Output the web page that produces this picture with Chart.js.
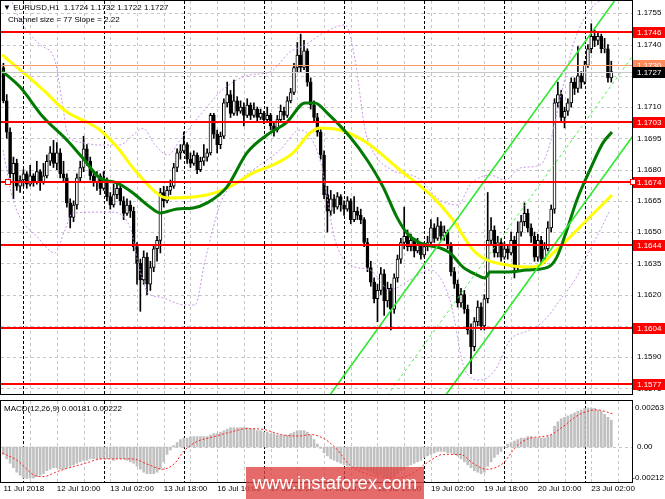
<!DOCTYPE html>
<html>
<head>
<meta charset="utf-8">
<script src="https://cdn.jsdelivr.net/npm/chart.js@4.4.0/dist/chart.umd.min.js"></script>
<style>
  html, body { margin: 0; padding: 0; background: #fff; }
  #wrap { position: relative; width: 665px; height: 499px; overflow: hidden; font-family: 'Liberation Sans', Arial, sans-serif; }
  #main { position: absolute; left: 0; top: 0; }
  #macd { position: absolute; left: 0; top: 397px; }
  .txt { position: absolute; font-size: 8px; color: #000; white-space: nowrap; }
  #watermark {
    position: absolute; left: 246px; top: 467px; width: 178px; height: 32px;
    background: rgba(222, 64, 64, 0.78); color: #fff; font-size: 18.5px;
    line-height: 32px; text-align: center; font-family: Arial, 'Liberation Sans', sans-serif;
  }
</style>
</head>
<body>
<div id="wrap">
  <canvas id="main" width="665" height="397"></canvas>
  <canvas id="macd" width="665" height="102"></canvas>
  <div class="txt" style="left:3px;top:3px;">&#9660; EURUSD,H1&nbsp; 1.1724 1.1732 1.1722 1.1727</div>
  <div class="txt" style="left:8px;top:15px;">Channel size = 77 Slope = 2.22</div>
  <div class="txt" style="left:4px;top:404px;">MACD(12,26,9) 0.00181 0.00222</div>
  <div id="watermark">www.instaforex.com</div>
</div>
<script>
// EURUSD H1, 11 Jul 18:00 .. 23 Jul 08:00 — one row per bar: [open, high, low, close]
const bars = [
  [1.1729, 1.1731, 1.1712, 1.1713], [1.1713, 1.1716, 1.1695, 1.1698], [1.1698, 1.1700, 1.1676, 1.1678], [1.1678, 1.1686, 1.1666, 1.1683],
  [1.1683, 1.1685, 1.1670, 1.1672], [1.1672, 1.1677, 1.1669, 1.1675], [1.1675, 1.1680, 1.1672, 1.1678], [1.1678, 1.1679, 1.1671, 1.1673],
  [1.1673, 1.1682, 1.1672, 1.1677], [1.1677, 1.1678, 1.1672, 1.1674], [1.1674, 1.1684, 1.1673, 1.1679], [1.1679, 1.1680, 1.1670, 1.1674],
  [1.1674, 1.1683, 1.1673, 1.1677], [1.1677, 1.1687, 1.1676, 1.1684], [1.1684, 1.1691, 1.1682, 1.1688], [1.1688, 1.1694, 1.1681, 1.1683],
  [1.1683, 1.1693, 1.1680, 1.1688], [1.1688, 1.1690, 1.1676, 1.1678], [1.1678, 1.1684, 1.1674, 1.1676], [1.1676, 1.1678, 1.1662, 1.1664],
  [1.1664, 1.1666, 1.1652, 1.1657], [1.1657, 1.1665, 1.1655, 1.1663], [1.1663, 1.1678, 1.1661, 1.1676], [1.1676, 1.1684, 1.1674, 1.1681],
  [1.1681, 1.1696, 1.1679, 1.1690], [1.1690, 1.1692, 1.1682, 1.1684], [1.1684, 1.1686, 1.1675, 1.1677], [1.1677, 1.1679, 1.1672, 1.1674],
  [1.1674, 1.1679, 1.1670, 1.1677], [1.1677, 1.1678, 1.1668, 1.1671], [1.1671, 1.1679, 1.1670, 1.1675], [1.1675, 1.1676, 1.1665, 1.1667],
  [1.1667, 1.1669, 1.1661, 1.1663], [1.1663, 1.1673, 1.1662, 1.1668], [1.1668, 1.1674, 1.1666, 1.1671], [1.1671, 1.1672, 1.1663, 1.1665],
  [1.1665, 1.1667, 1.1656, 1.1659], [1.1659, 1.1666, 1.1658, 1.1663], [1.1663, 1.1665, 1.1657, 1.1660], [1.1660, 1.1662, 1.1641, 1.1643],
  [1.1643, 1.1645, 1.1625, 1.1635], [1.1635, 1.1637, 1.1612, 1.1627], [1.1627, 1.1641, 1.1625, 1.1638], [1.1638, 1.1640, 1.1620, 1.1625],
  [1.1625, 1.1636, 1.1622, 1.1633], [1.1633, 1.1644, 1.1631, 1.1642], [1.1642, 1.1648, 1.1636, 1.1646], [1.1646, 1.1671, 1.1640, 1.1669],
  [1.1669, 1.1672, 1.1662, 1.1665], [1.1665, 1.1672, 1.1664, 1.1670], [1.1670, 1.1675, 1.1668, 1.1672], [1.1672, 1.1683, 1.1671, 1.1681],
  [1.1681, 1.1690, 1.1679, 1.1688], [1.1688, 1.1692, 1.1685, 1.1689], [1.1689, 1.1698, 1.1688, 1.1692], [1.1692, 1.1693, 1.1683, 1.1685],
  [1.1685, 1.1688, 1.1681, 1.1683], [1.1683, 1.1689, 1.1682, 1.1687], [1.1687, 1.1688, 1.1678, 1.1680], [1.1680, 1.1686, 1.1679, 1.1684],
  [1.1684, 1.1692, 1.1682, 1.1686], [1.1686, 1.1690, 1.1684, 1.1688], [1.1688, 1.1707, 1.1687, 1.1706], [1.1706, 1.1707, 1.1695, 1.1697],
  [1.1697, 1.1699, 1.1688, 1.1692], [1.1692, 1.1698, 1.1690, 1.1696], [1.1696, 1.1714, 1.1695, 1.1712], [1.1712, 1.1722, 1.1710, 1.1716],
  [1.1716, 1.1718, 1.1705, 1.1707], [1.1707, 1.1723, 1.1706, 1.1713], [1.1713, 1.1715, 1.1706, 1.1708], [1.1708, 1.1713, 1.1707, 1.1710],
  [1.1710, 1.1712, 1.1701, 1.1706], [1.1706, 1.1714, 1.1705, 1.1711], [1.1711, 1.1712, 1.1704, 1.1706], [1.1706, 1.1712, 1.1705, 1.1709],
  [1.1709, 1.1710, 1.1703, 1.1705], [1.1705, 1.1709, 1.1704, 1.1707], [1.1707, 1.1708, 1.1702, 1.1704], [1.1704, 1.1710, 1.1703, 1.1706],
  [1.1706, 1.1707, 1.1699, 1.1701], [1.1701, 1.1703, 1.1696, 1.1699], [1.1699, 1.1706, 1.1698, 1.1704], [1.1704, 1.1711, 1.1703, 1.1708],
  [1.1708, 1.1710, 1.1704, 1.1706], [1.1706, 1.1715, 1.1705, 1.1713], [1.1713, 1.1719, 1.1712, 1.1717], [1.1717, 1.1731, 1.1716, 1.1729],
  [1.1729, 1.1741, 1.1727, 1.1735], [1.1735, 1.1745, 1.1727, 1.1729], [1.1729, 1.1742, 1.1728, 1.1737], [1.1737, 1.1738, 1.1720, 1.1722],
  [1.1722, 1.1724, 1.1709, 1.1711], [1.1711, 1.1713, 1.1703, 1.1705], [1.1705, 1.1707, 1.1696, 1.1698], [1.1698, 1.1700, 1.1685, 1.1687],
  [1.1687, 1.1689, 1.1666, 1.1668], [1.1668, 1.1672, 1.1650, 1.1660], [1.1660, 1.1670, 1.1658, 1.1666], [1.1666, 1.1668, 1.1659, 1.1662],
  [1.1662, 1.1669, 1.1661, 1.1667], [1.1667, 1.1668, 1.1660, 1.1663], [1.1663, 1.1665, 1.1658, 1.1661], [1.1661, 1.1667, 1.1660, 1.1665],
  [1.1665, 1.1666, 1.1654, 1.1656], [1.1656, 1.1667, 1.1655, 1.1660], [1.1660, 1.1662, 1.1656, 1.1658], [1.1658, 1.1661, 1.1654, 1.1656],
  [1.1656, 1.1657, 1.1643, 1.1645], [1.1645, 1.1647, 1.1631, 1.1633], [1.1633, 1.1636, 1.1624, 1.1626], [1.1626, 1.1628, 1.1616, 1.1618],
  [1.1618, 1.1625, 1.1607, 1.1622], [1.1622, 1.1633, 1.1620, 1.1630], [1.1630, 1.1632, 1.1610, 1.1617], [1.1617, 1.1626, 1.1614, 1.1623],
  [1.1623, 1.1625, 1.1603, 1.1613], [1.1613, 1.1630, 1.1611, 1.1628], [1.1628, 1.1639, 1.1626, 1.1637], [1.1637, 1.1647, 1.1635, 1.1645],
  [1.1645, 1.1662, 1.1642, 1.1648], [1.1648, 1.1651, 1.1641, 1.1643], [1.1643, 1.1649, 1.1641, 1.1646], [1.1646, 1.1647, 1.1638, 1.1641],
  [1.1641, 1.1647, 1.1640, 1.1644], [1.1644, 1.1645, 1.1637, 1.1639], [1.1639, 1.1645, 1.1638, 1.1643], [1.1643, 1.1648, 1.1641, 1.1645],
  [1.1645, 1.1656, 1.1644, 1.1652], [1.1652, 1.1654, 1.1645, 1.1647], [1.1647, 1.1657, 1.1646, 1.1653], [1.1653, 1.1655, 1.1646, 1.1648],
  [1.1648, 1.1653, 1.1646, 1.1650], [1.1650, 1.1651, 1.1642, 1.1644], [1.1644, 1.1645, 1.1629, 1.1631], [1.1631, 1.1633, 1.1623, 1.1625],
  [1.1625, 1.1627, 1.1614, 1.1616], [1.1616, 1.1623, 1.1614, 1.1620], [1.1620, 1.1622, 1.1611, 1.1613], [1.1613, 1.1615, 1.1601, 1.1603],
  [1.1603, 1.1606, 1.1582, 1.1595], [1.1595, 1.1609, 1.1593, 1.1607], [1.1607, 1.1617, 1.1605, 1.1614], [1.1614, 1.1616, 1.1603, 1.1605],
  [1.1605, 1.1620, 1.1603, 1.1618], [1.1618, 1.1669, 1.1616, 1.1646], [1.1646, 1.1657, 1.1644, 1.1651], [1.1651, 1.1653, 1.1638, 1.1640],
  [1.1640, 1.1648, 1.1638, 1.1645], [1.1645, 1.1647, 1.1636, 1.1638], [1.1638, 1.1645, 1.1637, 1.1642], [1.1642, 1.1644, 1.1637, 1.1640],
  [1.1640, 1.1650, 1.1639, 1.1646], [1.1646, 1.1648, 1.1628, 1.1633], [1.1633, 1.1655, 1.1631, 1.1650], [1.1650, 1.1658, 1.1648, 1.1655],
  [1.1655, 1.1664, 1.1653, 1.1659], [1.1659, 1.1661, 1.1650, 1.1652], [1.1652, 1.1654, 1.1645, 1.1648], [1.1648, 1.1650, 1.1636, 1.1638],
  [1.1638, 1.1649, 1.1636, 1.1646], [1.1646, 1.1648, 1.1635, 1.1637], [1.1637, 1.1645, 1.1635, 1.1642], [1.1642, 1.1655, 1.1641, 1.1652],
  [1.1652, 1.1663, 1.1650, 1.1661], [1.1661, 1.1714, 1.1659, 1.1712], [1.1712, 1.1722, 1.1710, 1.1716], [1.1716, 1.1718, 1.1703, 1.1705],
  [1.1705, 1.1710, 1.1700, 1.1708], [1.1708, 1.1714, 1.1706, 1.1712], [1.1712, 1.1724, 1.1710, 1.1722], [1.1722, 1.1724, 1.1716, 1.1719],
  [1.1719, 1.1739, 1.1717, 1.1725], [1.1725, 1.1727, 1.1719, 1.1722], [1.1722, 1.1732, 1.1721, 1.1730], [1.1730, 1.1740, 1.1729, 1.1738],
  [1.1738, 1.1750, 1.1736, 1.1744], [1.1744, 1.1747, 1.1739, 1.1742], [1.1742, 1.1746, 1.1740, 1.1744], [1.1744, 1.1745, 1.1736, 1.1738],
  [1.1738, 1.1743, 1.1736, 1.1738], [1.1738, 1.1740, 1.1722, 1.1724], [1.1724, 1.1732, 1.1722, 1.1727]
];

const priceTicks = [1.1575, 1.1590, 1.1605, 1.1620, 1.1635, 1.1650, 1.1665, 1.1680, 1.1695, 1.1710, 1.1725, 1.1740, 1.1755];
const redLevels = [1.1746, 1.1703, 1.1674, 1.1644, 1.1604, 1.1577];
const askLevel = 1.1730;
const bidLevel = 1.1727;

const xLabelBars = [0, 16, 32, 48, 64, 80, 96, 112, 128, 144, 160, 176];
const xLabels = ['11 Jul 2018', '12 Jul 10:00', '13 Jul 02:00', '13 Jul 18:00', '16 Jul 10:00', '17 Jul 02:00',
  '17 Jul 18:00', '18 Jul 10:00', '19 Jul 02:00', '19 Jul 18:00', '20 Jul 10:00', '23 Jul 02:00'];
const daySeparators = [6, 30, 54, 78, 102, 126, 150, 174];

// moving averages: [bar, price]
const greenMA = [[-0.4, 1.17273], [5, 1.17196], [11.9, 1.17052], [19, 1.16942], [23.5, 1.1686], [28.9, 1.1676], [34, 1.16736],
  [38.8, 1.16688], [43.9, 1.1662], [46.9, 1.16592], [52, 1.16611], [56.8, 1.16616], [61, 1.1664], [66.9, 1.16716], [72.9, 1.1688],
  [78.9, 1.16966], [84.9, 1.17028], [90.3, 1.1712], [93.3, 1.1712], [96.9, 1.17072], [103.8, 1.16956], [108.9, 1.16846],
  [113.7, 1.16716], [117.8, 1.16572], [120.8, 1.16496], [124.7, 1.16448], [130.7, 1.16424], [133.7, 1.164], [137.6, 1.16332],
  [141.8, 1.16294], [144.2, 1.1628], [145.7, 1.16308], [150.8, 1.16308], [156.8, 1.16318], [163.1, 1.16332], [165.7, 1.1638],
  [168.7, 1.1651], [171.7, 1.16654], [175.6, 1.16798], [179.5, 1.16928], [182.2, 1.1698]];
const yellowMA = [[-0.4, 1.1735], [5, 1.17278], [11.9, 1.17182], [19, 1.17076], [25, 1.17028], [28.9, 1.1699], [34, 1.16908],
  [38.8, 1.16808], [43.9, 1.16716], [47.8, 1.16668], [49.9, 1.16664], [56.8, 1.16668], [64, 1.16692], [68.7, 1.16726],
  [74.7, 1.16784], [80.7, 1.16822], [86.7, 1.1688], [91.8, 1.16976], [94.8, 1.17], [100.8, 1.1699], [108.9, 1.16928],
  [118.7, 1.16798], [128.6, 1.16668], [134.6, 1.16558], [140.6, 1.16414], [144.8, 1.16366], [150.8, 1.16342], [156.8, 1.16332],
  [160.7, 1.16342], [164.6, 1.164], [168.7, 1.16462], [174.7, 1.16558], [182.2, 1.16678]];
const bandUpper = [[-0.1, 1.1771], [5, 1.17518], [11, 1.17398], [15.4, 1.17326], [17.5, 1.17134], [19.3, 1.16966], [22.9, 1.16932],
  [28.9, 1.16918], [34.9, 1.16918], [38.8, 1.16966], [41.8, 1.16998], [45.4, 1.16918], [49.3, 1.1687], [52.9, 1.16942],
  [58.9, 1.17062], [66.3, 1.17192], [73.8, 1.17254], [79.8, 1.17268], [85.8, 1.17364], [90.3, 1.17398], [96.3, 1.1746],
  [102.3, 1.17494], [105.3, 1.17326], [108.3, 1.1699], [111.3, 1.1687], [116.3, 1.16798], [124.1, 1.1676], [130.7, 1.16654],
  [136.1, 1.1663], [139.7, 1.16726], [145.7, 1.16774], [150.2, 1.1675], [154.7, 1.16808], [160.7, 1.16822], [163.1, 1.16894],
  [166.6, 1.17134], [171.1, 1.17422], [175.6, 1.17566], [181.6, 1.17638]];
const bandLower = [[-0.1, 1.16894], [2.9, 1.16654], [11, 1.16462], [15.4, 1.164], [18.4, 1.1651], [20.8, 1.16592], [31.9, 1.16596],
  [37.9, 1.16524], [40.3, 1.16352], [43.3, 1.16208], [46.9, 1.16188], [54.4, 1.1615], [57.4, 1.1615], [60.4, 1.16366],
  [65.4, 1.16654], [70.8, 1.1675], [76.8, 1.16822], [82.8, 1.16894], [88.8, 1.1699], [94.8, 1.16846], [99.3, 1.16462],
  [103.8, 1.16342], [109.8, 1.16318], [115.7, 1.16222], [121.7, 1.1627], [127.7, 1.16318], [133.7, 1.16174], [138.2, 1.15838],
  [142.7, 1.1579], [147.2, 1.15838], [151.7, 1.15982], [157.6, 1.1603], [162.1, 1.16078], [166.6, 1.16174], [171.1, 1.1627],
  [175.6, 1.16414], [178.7, 1.1651], [181.6, 1.16606]];

// regression channel (size 77 pips, slope 2.22 pips/bar)
const channelBars = [95, 190];
const channelUpper = [1.15657, 1.17766];
const channelMiddle = [1.15272, 1.17381];
const channelLower = [1.14887, 1.16996];

// MACD(12,26,9) histogram per bar, and signal line [bar, value]
const macdHist = [
  -0.0005, -0.0008, -0.0011, -0.0014, -0.0017, -0.0019, -0.0021, -0.00212, -0.0021, -0.0021,
  -0.0020, -0.0019, -0.0018, -0.0016, -0.0015, -0.0014, -0.0014, -0.0015, -0.0015, -0.0014,
  -0.0013, -0.0012, -0.0011, -0.0010, -0.0009, -0.0009, -0.0008, -0.0008, -0.0008, -0.0008,
  -0.0008, -0.0008, -0.0008, -0.0009, -0.0008, -0.0008, -0.0008, -0.0009, -0.0010, -0.0011,
  -0.0013, -0.0015, -0.0017, -0.0018, -0.0018, -0.0018, -0.0017, -0.0015, -0.0010, -0.0005,
  -0.0002, 0.0001, 0.0003, 0.0005, 0.0006, 0.0006, 0.0007, 0.0007, 0.0007, 0.0007,
  0.0007, 0.0007, 0.0008, 0.0009, 0.0009, 0.0010, 0.0011, 0.0012, 0.0013, 0.0013,
  0.0013, 0.0013, 0.0013, 0.0013, 0.0012, 0.0012, 0.0011, 0.0011, 0.0010, 0.0010,
  0.0009, 0.0009, 0.0008, 0.0008, 0.0008, 0.0008, 0.0009, 0.0010, 0.0011, 0.0011,
  0.0011, 0.0010, 0.0008, 0.0005, 0.0002, -0.0001, -0.0004, -0.0006, -0.0008, -0.0009,
  -0.0010, -0.0011, -0.0012, -0.0013, -0.0013, -0.0014, -0.0014, -0.0015, -0.0015, -0.0016,
  -0.0017, -0.0018, -0.0019, -0.0019, -0.0020, -0.0021, -0.0021, -0.0020, -0.0018, -0.0016,
  -0.0015, -0.0013, -0.0012, -0.0011, -0.0010, -0.0009, -0.0007, -0.0006, -0.0005, -0.0004,
  -0.0003, -0.0003, -0.0003, -0.0004, -0.0004, -0.0005, -0.0006, -0.0008, -0.0010, -0.0012,
  -0.0014, -0.0016, -0.0017, -0.0018, -0.0017, -0.0013, -0.0010, -0.0007, -0.0005, -0.0003,
  0.0000, 0.0002, 0.0003, 0.0004, 0.0005, 0.0006, 0.0006, 0.0007, 0.0007, 0.0006,
  0.0006, 0.0006, 0.0006, 0.0007, 0.0008, 0.0014, 0.0017, 0.0019, 0.0020, 0.0021,
  0.0022, 0.0023, 0.0024, 0.0025, 0.0026, 0.00263, 0.00262, 0.0026, 0.0025, 0.0024,
  0.0022, 0.0020, 0.00181
];
const macdSignal = [[-0.4, -0.0004], [4.1, -0.0009], [9.2, -0.0019], [11.7, -0.002], [16.8, -0.0016], [24.5, -0.0011],
  [29.6, -0.0008], [38.5, -0.0008], [43.6, -0.0012], [47.5, -0.0015], [51.3, -0.0011], [53.9, -0.0003], [57.7, 0.00034],
  [62.8, 0.00068], [67.9, 0.001], [73, 0.00124], [78.1, 0.00117], [83.2, 0.00083], [88.3, 0.00074], [92.1, 0.00083],
  [96, 0.00056], [99.8, -0.00014], [103.6, -0.0012], [108.7, -0.0018], [116.4, -0.0021], [121.5, -0.0019], [126.6, -0.0011],
  [131.7, -0.0005], [136.8, -0.0005], [140.6, -0.0011], [144.5, -0.0015], [149.6, -0.0011], [153.4, 0], [157.2, 0.00056],
  [163.6, 0.0008], [167.4, 0.00135], [172.5, 0.0022], [177.6, 0.0025], [182.7, 0.00222]];
const macdTicks = [0.00263, 0, -0.00212];

// visible window
const X_MIN = -0.72, X_MAX = 188.2;
const PRICE_MIN = 1.15723, PRICE_MAX = 1.17609;
const MACD_MIN = -0.00236, MACD_MAX = 0.0031;

const AXIS_FONT = { family: 'Liberation Sans', size: 8 };
const toPts = arr => arr.map(p => ({ x: p[0], y: p[1] }));

function hLine(ctx, x1, x2, y) {
    ctx.beginPath(); ctx.moveTo(x1, y); ctx.lineTo(x2, y); ctx.stroke();
}
function vLine(ctx, x, y1, y2) {
    ctx.beginPath(); ctx.moveTo(x, y1); ctx.lineTo(x, y2); ctx.stroke();
}

// keep chart areas where they are: no extra room for edge labels
function noPadding(s) {
    s.paddingTop = 0; s.paddingBottom = 0; s.paddingLeft = 0; s.paddingRight = 0;
}

// dashed grid + day separators, shared by both panes
function drawTimeGrid(ctx, xs, a) {
    ctx.lineWidth = 1;
    ctx.strokeStyle = '#c6c6c6';
    ctx.setLineDash([3, 3]);
    for (let b = 8; b < X_MAX; b += 8) {
        if (daySeparators.includes(b)) continue;
        vLine(ctx, Math.round(xs.getPixelForValue(b)) + 0.5, a.top, a.bottom);
    }
    ctx.strokeStyle = '#000';
    ctx.setLineDash([3, 2]);
    daySeparators.forEach(b => vLine(ctx, Math.round(xs.getPixelForValue(b)) + 0.5, a.top, a.bottom));
    ctx.setLineDash([]);
}

function drawFrame(ctx, a) {
    ctx.strokeStyle = '#000';
    ctx.lineWidth = 1;
    ctx.strokeRect(a.left - 0.5, a.top - 0.5, a.right - a.left + 1, a.bottom - a.top + 1);
}

const mainDecor = {
    id: 'mainDecor',
    beforeDatasetsDraw(chart) {
        const { ctx, chartArea: a, scales: { x, y } } = chart;
        ctx.save();
        ctx.strokeStyle = '#c6c6c6';
        ctx.lineWidth = 1;
        ctx.setLineDash([3, 3]);
        priceTicks.forEach(v => hLine(ctx, a.left, a.right, Math.round(y.getPixelForValue(v)) + 0.5));
        ctx.setLineDash([]);
        drawTimeGrid(ctx, x, a);
        ctx.restore();
    },
    afterDatasetsDraw(chart) {
        const { ctx, chartArea: a, scales: { x, y } } = chart;
        ctx.save();
        ctx.lineWidth = 1;
        ctx.strokeStyle = '#c8c8c8';
        hLine(ctx, a.left, a.right, Math.round(y.getPixelForValue(bidLevel)) + 0.5);
        ctx.strokeStyle = '#ff9a6a';
        hLine(ctx, a.left, a.right, Math.round(y.getPixelForValue(askLevel)) + 0.5);
        ctx.strokeStyle = '#ff0000';
        ctx.lineWidth = 2;
        redLevels.forEach(v => hLine(ctx, a.left, a.right, Math.round(y.getPixelForValue(v))));
        // small anchor square of the 1.1674 line
        const sy = Math.round(y.getPixelForValue(1.1674));
        const sx = Math.round(x.getPixelForValue(1.4));
        ctx.lineWidth = 1;
        ctx.fillStyle = '#fff';
        ctx.fillRect(sx - 3, sy - 3, 6, 6);
        ctx.strokeRect(sx - 2.5, sy - 2.5, 5, 5);
        drawFrame(ctx, a);
        ctx.restore();
    },
    afterDraw(chart) {
        const { ctx, chartArea: a, scales: { y } } = chart;
        ctx.save();
        ctx.font = '8px "Liberation Sans"';
        ctx.textBaseline = 'middle';
        const box = (v, bg) => {
            const py = Math.round(y.getPixelForValue(v));
            ctx.fillStyle = bg;
            ctx.fillRect(a.right + 1, py - 5, chart.width - a.right - 1, 11);
            ctx.fillStyle = '#fff';
            ctx.fillText(v.toFixed(4), a.right + 5, py + 0.5);
        };
        box(askLevel, '#ff8a5c');
        box(bidLevel, '#000');
        redLevels.forEach(v => box(v, '#ff0000'));
        const sy = Math.round(y.getPixelForValue(1.1674));
        ctx.strokeStyle = '#ff0000';
        ctx.fillStyle = '#fff';
        ctx.fillRect(a.right - 2, sy - 3, 6, 6);
        ctx.strokeRect(a.right - 1.5, sy - 2.5, 5, 5);
        ctx.restore();
    }
};

const macdDecor = {
    id: 'macdDecor',
    beforeDatasetsDraw(chart) {
        const { ctx, chartArea: a, scales: { x, y } } = chart;
        ctx.save();
        ctx.strokeStyle = '#c6c6c6';
        ctx.lineWidth = 1;
        ctx.setLineDash([3, 3]);
        hLine(ctx, a.left, a.right, Math.round(y.getPixelForValue(0)) + 0.5);
        ctx.setLineDash([]);
        drawTimeGrid(ctx, x, a);
        ctx.restore();
    },
    afterDatasetsDraw(chart) {
        const { ctx, chartArea: a } = chart;
        ctx.save();
        drawFrame(ctx, a);
        ctx.restore();
    },
    // scale labels: start 5px right of the pane, pulled left when too wide
    afterDraw(chart) {
        const { ctx, chartArea: a, scales: { y } } = chart;
        ctx.save();
        ctx.font = '8px "Liberation Sans"';
        ctx.textBaseline = 'middle';
        ctx.fillStyle = '#000';
        macdTicks.forEach(v => {
            const label = v === 0 ? '0.00' : v.toFixed(5);
            const w = ctx.measureText(label).width;
            const lx = Math.min(a.right + 5, chart.width - w - 1);
            ctx.fillText(label, lx, Math.min(y.getPixelForValue(v), a.bottom - 4));
        });
        ctx.restore();
    }
};

function buildMainChart() {
    const wicks = bars.map((b, i) => ({ x: i, y: [b[2], b[1]] }));
    const bodies = bars.map((b, i) => {
        let lo = Math.min(b[0], b[3]), hi = Math.max(b[0], b[3]);
        if (hi - lo < 0.00002) { lo -= 0.00001; hi += 0.00001; }
        return { x: i, y: [lo, hi] };
    });
    const bodyColors = bars.map(b => (b[3] >= b[0] ? '#ffffff' : '#000000'));

    const line = (data, color, width, dash, order, smooth) => ({
        type: 'line', data, borderColor: color, borderWidth: width, borderDash: dash,
        pointRadius: 0, fill: false, order,
        cubicInterpolationMode: smooth ? 'monotone' : 'default', tension: 0
    });

    new Chart(document.getElementById('main'), {
        type: 'bar',
        data: {
            datasets: [
                line(channelBars.map((b, i) => ({ x: b, y: channelUpper[i] })), '#2ee82e', 1.6, [], 1, false),
                line(channelBars.map((b, i) => ({ x: b, y: channelMiddle[i] })), '#4cf04c', 1, [3, 3], 1, false),
                line(channelBars.map((b, i) => ({ x: b, y: channelLower[i] })), '#2ee82e', 1.6, [], 1, false),
                line(toPts(greenMA), '#007a00', 3, [], 2, true),
                line(toPts(yellowMA), '#ffff00', 3, [], 2, true),
                line(toPts(bandUpper), '#c794e6', 1, [2, 2], 3, true),
                line(toPts(bandLower), '#c794e6', 1, [2, 2], 3, true),
                { data: bodies, backgroundColor: bodyColors, borderColor: '#000', borderWidth: 1,
                  borderSkipped: false, barThickness: 3, grouped: false, order: 4 },
                { data: wicks, backgroundColor: '#000', borderWidth: 0, barThickness: 1, grouped: false, order: 5 }
            ]
        },
        options: {
            responsive: false,
            animation: false,
            events: [],
            layout: { padding: { left: 1, top: 1, right: 0, bottom: 3 } },
            plugins: { legend: { display: false }, tooltip: { enabled: false } },
            scales: {
                x: { type: 'linear', min: X_MIN, max: X_MAX, offset: false, display: false },
                y: {
                    position: 'right', min: PRICE_MIN, max: PRICE_MAX,
                    afterFit: s => { s.width = 33; noPadding(s); },
                    afterBuildTicks: s => { s.ticks = priceTicks.map(v => ({ value: v })); },
                    grid: { display: false, drawTicks: false },
                    border: { display: false },
                    ticks: { callback: v => v.toFixed(4), color: '#000', font: AXIS_FONT, padding: 5 }
                }
            }
        },
        plugins: [mainDecor]
    });
}

function buildMacdChart() {
    new Chart(document.getElementById('macd'), {
        type: 'bar',
        data: {
            datasets: [
                { type: 'line', data: toPts(macdSignal), borderColor: '#ff2020', borderWidth: 1, borderDash: [2, 2],
                  pointRadius: 0, fill: false, cubicInterpolationMode: 'monotone', order: 1 },
                { data: macdHist.map((v, i) => ({ x: i, y: v })), backgroundColor: '#c0c0c0', borderWidth: 0,
                  barThickness: 2, grouped: false, order: 2 }
            ]
        },
        options: {
            responsive: false,
            animation: false,
            events: [],
            layout: { padding: { left: 1, top: 4, right: 0, bottom: 0 } },
            plugins: { legend: { display: false }, tooltip: { enabled: false } },
            scales: {
                x: {
                    type: 'linear', min: X_MIN, max: X_MAX, offset: false,
                    afterFit: s => { s.height = 17; noPadding(s); },
                    afterBuildTicks: s => { s.ticks = xLabelBars.map(v => ({ value: v })); },
                    grid: { display: false, drawTicks: false },
                    border: { display: false },
                    ticks: {
                        callback: v => xLabels[xLabelBars.indexOf(v)],
                        autoSkip: false, maxRotation: 0, minRotation: 0, align: 'start',
                        color: '#000', font: AXIS_FONT, padding: 2
                    }
                },
                y: {
                    position: 'right', min: MACD_MIN, max: MACD_MAX,
                    afterFit: s => { s.width = 33; noPadding(s); },
                    afterBuildTicks: s => { s.ticks = macdTicks.map(v => ({ value: v })); },
                    grid: { display: false, drawTicks: false },
                    border: { display: false },
                    ticks: { display: false }
                }
            }
        },
        plugins: [macdDecor]
    });
}

buildMainChart();
buildMacdChart();
</script>
</body>
</html>
